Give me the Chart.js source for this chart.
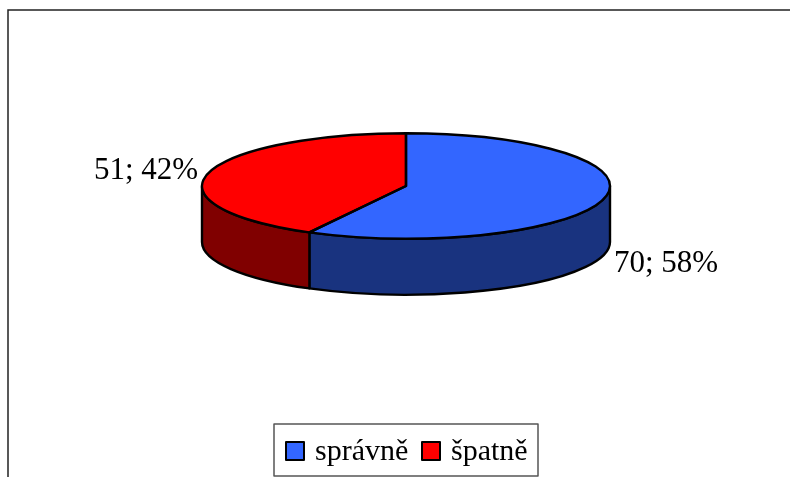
<!DOCTYPE html>
<html lang="cs">
<head>
<meta charset="utf-8">
<style>
html,body{margin:0;padding:0;background:#fff;overflow:hidden}
canvas{display:block}
</style>
<script src="https://cdn.jsdelivr.net/npm/chart.js@4"></script>
</head>
<body>
<canvas id="pie" width="790" height="477"></canvas>
<script>
const categories = ['správně', 'špatně'];
const answers = [70, 51];
const sliceColors = ['#3366FF', '#FF0000'];
const wallColors = ['#19337F', '#800000'];

const LABEL_FONT = '31px "Liberation Serif", "Times New Roman", serif';
const LEGEND_FONT = '30px "Liberation Serif", "Times New Roman", serif';
const TILT = 0.2583;       // vertical squash of the disc
const DEPTH = 56;          // height of the side wall in pixels
const DISC_Y = 186;        // vertical centre of the top face
const OUTLINE = 2.4;
const labelSpots = [
  { x: 614, y: 272 },
  { x: 94, y: 179 }
];
const legendBox = { x: 274, y: 424, w: 264, h: 52 };
const legendItems = [
  { box: 286, text: 315 },
  { box: 422, text: 451 }
];

// traces part of the rim of the flattened disc around the given centre height
function outlineArc(ctx, arc, cy, from, to, ccw) {
  ctx.ellipse(arc.x, cy, arc.outerRadius, arc.outerRadius * TILT, 0, from, to, !!ccw);
}

function wallRange(arc) {
  // Only the part of the rim facing the viewer (canvas angles 0..PI) shows a wall
  const from = Math.max(arc.startAngle, 0);
  const to = Math.min(arc.endAngle, Math.PI);
  return to > from ? [from, to] : null;
}

const pseudo3d = {
  id: 'pseudo3d',
  beforeDraw(chart) {
    const { ctx } = chart;
    ctx.save();
    ctx.fillStyle = '#fff';
    ctx.fillRect(0, 0, chart.width, chart.height);
    // chart frame: only the top and left edges are visible
    ctx.strokeStyle = '#222';
    ctx.lineWidth = 1.5;
    ctx.beginPath();
    ctx.moveTo(790, 10);
    ctx.lineTo(8, 10);
    ctx.lineTo(8, 477);
    ctx.stroke();
    ctx.restore();
  },
  beforeDatasetsDraw(chart) {
    const { ctx } = chart;
    const arcs = chart.getDatasetMeta(0).data;
    ctx.save();
    ctx.lineWidth = OUTLINE;
    ctx.strokeStyle = '#000';
    ctx.lineJoin = 'round';
    arcs.forEach((arc, i) => {
      const range = wallRange(arc);
      if (!range) return;
      ctx.beginPath();
      outlineArc(ctx, arc, DISC_Y, range[0], range[1]);
      outlineArc(ctx, arc, DISC_Y + DEPTH, range[1], range[0], true);
      ctx.closePath();
      ctx.fillStyle = wallColors[i];
      ctx.fill();
      ctx.stroke();
    });
    ctx.restore();
    // the library paints the slice faces through this transform
    ctx.save();
    const cy = arcs[0].y;
    ctx.translate(0, DISC_Y);
    ctx.scale(1, TILT);
    ctx.translate(0, -cy);
  },
  afterDatasetsDraw(chart) {
    const { ctx } = chart;
    ctx.restore();
    const arcs = chart.getDatasetMeta(0).data;
    const total = answers.reduce((a, b) => a + b, 0);
    ctx.save();
    ctx.lineWidth = OUTLINE;
    ctx.strokeStyle = '#000';
    ctx.lineJoin = 'round';
    arcs.forEach((arc) => {
      ctx.beginPath();
      ctx.moveTo(arc.x, DISC_Y);
      outlineArc(ctx, arc, DISC_Y, arc.startAngle, arc.endAngle);
      ctx.closePath();
      ctx.stroke();
    });
    ctx.fillStyle = '#000';
    ctx.font = LABEL_FONT;
    ctx.textBaseline = 'alphabetic';
    ctx.textAlign = 'left';
    answers.forEach((v, i) => {
      const pct = Math.round(v / total * 100);
      ctx.fillText(v + '; ' + pct + '%', labelSpots[i].x, labelSpots[i].y);
    });

    // legend with its frame
    ctx.font = LEGEND_FONT;
    ctx.strokeStyle = '#555';
    ctx.lineWidth = 1.5;
    ctx.strokeRect(legendBox.x, legendBox.y, legendBox.w, legendBox.h);
    categories.forEach((name, i) => {
      ctx.fillStyle = sliceColors[i];
      ctx.strokeStyle = '#000';
      ctx.lineWidth = 2;
      ctx.fillRect(legendItems[i].box, 442, 18, 18);
      ctx.strokeRect(legendItems[i].box, 442, 18, 18);
      ctx.fillStyle = '#000';
      ctx.fillText(name, legendItems[i].text, 460);
    });
    ctx.restore();
  }
};

new Chart(document.getElementById('pie'), {
  type: 'pie',
  data: {
    labels: categories,
    datasets: [{
      data: answers,
      backgroundColor: sliceColors,
      borderWidth: 0
    }]
  },
  options: {
    responsive: false,
    animation: false,
    layout: { padding: { left: 202, right: 180, top: 0, bottom: 69 } },
    plugins: {
      legend: { display: false },
      tooltip: { enabled: false }
    }
  },
  plugins: [pseudo3d]
});
</script>
</body>
</html>
